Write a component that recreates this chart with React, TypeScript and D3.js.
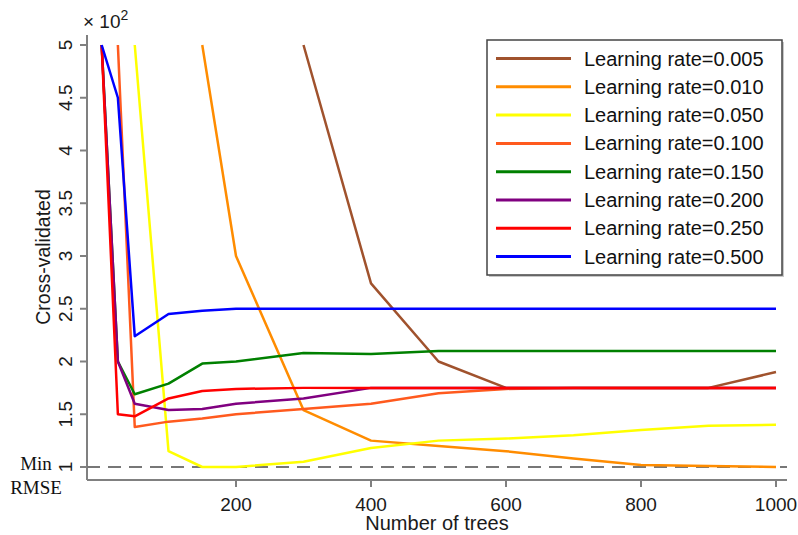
import { scaleLinear, line } from "d3";

const trees = [1, 25, 50, 100, 150, 200, 300, 400, 500, 600, 700, 800, 900, 1000];

const lr005 = [null, null, null, null, null, null, 5, 2.74, 2.0, 1.75, 1.75, 1.75, 1.75, 1.9];
const lr010 = [null, null, null, null, 5, 3.0, 1.54, 1.25, 1.2, 1.15, 1.08, 1.02, 1.01, 1.0];
const lr050 = [null, null, 5, 1.15, 1.0, 1.0, 1.05, 1.18, 1.25, 1.27, 1.3, 1.35, 1.39, 1.4];
const lr100 = [null, 5, 1.38, 1.43, 1.46, 1.5, 1.55, 1.6, 1.7, 1.74, 1.75, 1.75, 1.75, 1.75];
const lr150 = [5, 2.0, 1.69, 1.79, 1.98, 2.0, 2.08, 2.07, 2.1, 2.1, 2.1, 2.1, 2.1, 2.1];
const lr200 = [5, 2.0, 1.6, 1.54, 1.55, 1.6, 1.65, 1.75, 1.75, 1.75, 1.75, 1.75, 1.75, 1.75];
const lr250 = [5, 1.5, 1.48, 1.65, 1.72, 1.74, 1.75, 1.75, 1.75, 1.75, 1.75, 1.75, 1.75, 1.75];
const lr500 = [5, 4.5, 2.24, 2.45, 2.48, 2.5, 2.5, 2.5, 2.5, 2.5, 2.5, 2.5, 2.5, 2.5];

const seriesLabels = [
  "Learning rate=0.005",
  "Learning rate=0.010",
  "Learning rate=0.050",
  "Learning rate=0.100",
  "Learning rate=0.150",
  "Learning rate=0.200",
  "Learning rate=0.250",
  "Learning rate=0.500",
];
const seriesValues = [lr005, lr010, lr050, lr100, lr150, lr200, lr250, lr500];
const seriesColors = ["#A0522D", "#FF8C00", "#FFFF00", "#FF5A1E", "#008000", "#800080", "#FF0000", "#0000FF"];

const yTicks = [1, 1.5, 2, 2.5, 3, 3.5, 4, 4.5, 5];
const xTicks = [200, 400, 600, 800, 1000];

const sans = "'Liberation Sans', Arial, sans-serif";
const serif = "'Liberation Serif', 'Times New Roman', serif";
const axisColor = "#808080";

export default function App() {
  const width = 798;
  const height = 535;
  const axisX = 87;
  const axisY = 480;
  const xScale = scaleLinear().domain([0, 1000]).range([101, 776]);
  const yScale = scaleLinear().domain([1, 5]).range([467, 45]);

  const path = line<number | null>()
    .defined((d) => d != null)
    .x((_, i) => xScale(trees[i]))
    .y((d) => yScale(d as number));

  const legendX = 487;
  const legendY = 40;

  return (
    <svg
      width={width}
      height={height}
      style={{ position: "absolute", left: 0, top: 0, background: "#fff" }}
      fontFamily={sans}
    >
      {/* axes */}
      <line x1={axisX} x2={axisX} y1={35} y2={axisY} stroke={axisColor} strokeWidth={2} />
      <line x1={axisX} x2={787} y1={axisY} y2={axisY} stroke={axisColor} strokeWidth={2} />

      {yTicks.map((t) => {
        const y = yScale(t);
        return (
          <g key={t}>
            <line x1={axisX - 7} x2={axisX} y1={y} y2={y} stroke={axisColor} strokeWidth={2} />
            <text
              transform={`translate(72, ${y}) rotate(-90)`}
              textAnchor="middle"
              fontSize={19}
              fill="#1a1a1a"
            >
              {t}
            </text>
          </g>
        );
      })}

      {xTicks.map((t) => {
        const x = xScale(t);
        return (
          <g key={t}>
            <line x1={x} x2={x} y1={axisY} y2={axisY + 7} stroke={axisColor} strokeWidth={2} />
            <text x={x} y={511} textAnchor="middle" fontSize={19} fill="#1a1a1a">
              {t}
            </text>
          </g>
        );
      })}

      <text x={83} y={28} fontSize={19} fill="#1a1a1a">
        × 10<tspan dy={-8} fontSize={14}>2</tspan>
      </text>

      <text transform="translate(50, 257) rotate(-90)" textAnchor="middle" fontSize={19.5} fill="#1a1a1a">
        Cross-validated
      </text>
      <text x={437} y={530} textAnchor="middle" fontSize={20} fill="#1a1a1a">
        Number of trees
      </text>

      <text x={36} y={470} textAnchor="middle" fontSize={19} fontFamily={serif} fill="#111">
        Min
      </text>
      <text x={36} y={494} textAnchor="middle" fontSize={19} fontFamily={serif} fill="#111">
        RMSE
      </text>

      {/* min RMSE reference line */}
      <line
        x1={axisX}
        x2={787}
        y1={yScale(1)}
        y2={yScale(1)}
        stroke="#777"
        strokeWidth={2}
        strokeDasharray="13 8"
      />

      {seriesValues.map((vals, i) => (
        <path
          key={seriesLabels[i]}
          d={path(vals) ?? ""}
          fill="none"
          stroke={seriesColors[i]}
          strokeWidth={2.5}
          strokeLinejoin="round"
        />
      ))}

      {/* legend */}
      <rect x={legendX + 2} y={legendY + 2} width={295} height={235} fill="#c8c8c8" />
      <rect x={legendX} y={legendY} width={295} height={235} fill="#fff" stroke="#444" strokeWidth={1.5} />
      {seriesLabels.map((label, i) => {
        const y = legendY + 18.5 + i * 28.3;
        return (
          <g key={label}>
            <line x1={legendX + 9} x2={legendX + 84} y1={y} y2={y} stroke={seriesColors[i]} strokeWidth={3} />
            <text x={legendX + 97} y={y + 7} fontSize={20} fill="#111">
              {label}
            </text>
          </g>
        );
      })}
    </svg>
  );
}
